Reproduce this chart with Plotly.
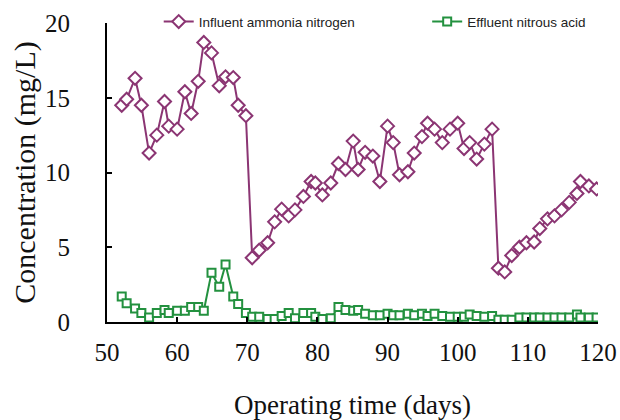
import plotly.graph_objects as go

days = [52.1, 52.8, 54.0, 54.9, 56.0, 57.1, 58.2, 58.8, 60.0, 61.1, 62.0, 63.0, 63.8, 64.9,
        66.0, 66.9, 68.0, 68.7, 69.8, 70.7, 71.7, 72.9, 73.9, 74.9, 75.9, 76.8, 78.0, 79.1,
        79.7, 80.7, 81.9, 83.0, 84.0, 85.1, 85.8, 86.8, 87.9, 88.9, 90.0, 90.8, 91.7, 92.9,
        93.8, 94.9, 95.7, 96.7, 97.8, 98.9, 100.0, 100.9, 101.7, 102.7, 103.8, 104.9, 105.8,
        106.7, 107.7, 108.8, 109.8, 110.9, 111.7, 112.8, 113.8, 114.8, 115.9, 117.0, 117.5,
        118.7, 119.8]

influent_ammonia = [14.5, 14.9, 16.3, 14.5, 11.3, 12.5, 14.75, 13.1, 12.9, 15.4, 13.95, 16.1,
                    18.7, 18.0, 15.8, 16.4, 16.35, 14.5, 13.8, 4.3, 4.8, 5.3, 6.7, 7.55, 7.1,
                    7.5, 8.4, 9.4, 9.3, 8.5, 9.3, 10.6, 10.2, 12.1, 10.2, 11.35, 11.1, 9.4,
                    13.1, 12.0, 9.85, 10.05, 11.3, 12.4, 13.3, 12.9, 12.0, 12.9, 13.3, 11.6,
                    12.0, 10.9, 11.9, 12.9, 3.6, 3.35, 4.45, 5.0, 5.3, 5.35, 6.25, 6.9, 7.1,
                    7.5, 8.0, 8.6, 9.4, 9.1, 8.9]

effluent_nitrous = [1.7, 1.25, 0.9, 0.6, 0.3, 0.6, 0.8, 0.6, 0.75, 0.75, 1.0, 1.0, 0.75, 3.3,
                    2.35, 3.85, 1.7, 1.2, 0.6, 0.35, 0.35, 0.2, 0.2, 0.4, 0.6, 0.25, 0.6, 0.6,
                    0.35, 0.2, 0.25, 1.0, 0.8, 0.75, 0.8, 0.55, 0.45, 0.45, 0.55, 0.45, 0.45,
                    0.55, 0.45, 0.55, 0.4, 0.55, 0.4, 0.35, 0.35, 0.35, 0.5, 0.4, 0.35, 0.4,
                    0.15, 0.15, 0.15, 0.3, 0.3, 0.3, 0.3, 0.3, 0.3, 0.3, 0.3, 0.5, 0.3, 0.3, 0.3]

x_ticks = [50, 60, 70, 80, 90, 100, 110, 120]
y_ticks = [0, 5, 10, 15, 20]

purple = "#8B3573"
green = "#23913F"

fig = go.Figure()
fig.add_trace(go.Scatter(
    x=days, y=influent_ammonia, name="Influent ammonia nitrogen", mode="lines+markers",
    line=dict(color=purple, width=2), legend="legend",
    marker=dict(symbol="diamond", size=10, color="white", line=dict(color=purple, width=2)),
))
fig.add_trace(go.Scatter(
    x=days, y=effluent_nitrous, name="Effluent nitrous acid", mode="lines+markers",
    line=dict(color=green, width=2), legend="legend2",
    marker=dict(symbol="square", size=8, color="white", line=dict(color=green, width=2)),
))

serif = "Liberation Serif, Times New Roman, serif"
sans = "Liberation Sans, Arial, sans-serif"
leg_common = dict(orientation="h", xref="container", yref="container", y=0.985,
                  xanchor="left", yanchor="top", bgcolor="rgba(0,0,0,0)",
                  font=dict(family=sans, size=13.5, color="#222"))
fig.update_layout(
    width=620, height=420,
    margin=dict(l=107, r=22, t=23, b=98, autoexpand=False),
    paper_bgcolor="white", plot_bgcolor="white",
    showlegend=True,
    legend=dict(x=0.256, **leg_common),
    legend2=dict(x=0.689, **leg_common),
    xaxis=dict(range=[50, 120], tickvals=x_ticks, ticktext=[str(t) for t in x_ticks],
               showgrid=False, zeroline=False, showline=True, linecolor="black", linewidth=2,
               ticks="inside", ticklen=5, tickwidth=2, tickcolor="black", automargin=False,
               tickfont=dict(family=serif, size=25, color="#111"), ticklabelstandoff=7,
               title=dict(text="Operating time (days)", font=dict(family=serif, size=27, color="#111"),
                          standoff=30)),
    yaxis=dict(range=[0, 20], tickvals=y_ticks, automargin=False,
               showgrid=False, zeroline=False, showline=True, linecolor="black", linewidth=2,
               ticks="inside", ticklen=5, tickwidth=2, tickcolor="black",
               tickfont=dict(family=serif, size=25, color="#111"), ticklabelstandoff=30,
               title=dict(text="Concentration (mg/L)", font=dict(family=serif, size=30, color="#111"),
                          standoff=1)),
)

fig.write_html("out.html", config={"displayModeBar": False},
               post_script="document.body.style.margin='0px';document.body.style.overflow='hidden';")
